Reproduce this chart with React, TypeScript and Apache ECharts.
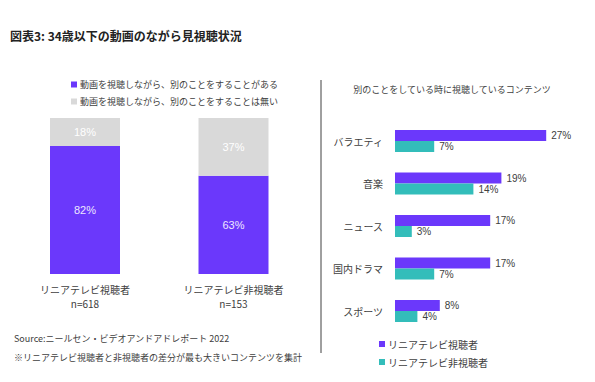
import React, { useEffect, useRef } from "react";
import * as echarts from "echarts";

const leftCategories = ["リニアテレビ視聴者\nn=618", "リニアテレビ非視聴者\nn=153"];
const doingOther = [82, 63];
const notDoingOther = [18, 37];
const leftLegend = ["動画を視聴しながら、別のことをすることがある", "動画を視聴しながら、別のことをすることは無い"];

const contentCategories = ["バラエティ", "音楽", "ニュース", "国内ドラマ", "スポーツ"];
const viewers = [27, 19, 17, 17, 8];
const nonViewers = [7, 14, 3, 7, 4];
const rightLegend = ["リニアテレビ視聴者", "リニアテレビ非視聴者"];

const PURPLE = "#6B38FB";
const TEAL = "#33BDBA";
const GRAY = "#D9D9D9";
const TEXT = "#404040";
const FONT = "'Noto Sans CJK JP', 'Noto Sans', sans-serif";
const NUMFONT = "'Liberation Sans', Arial, sans-serif";

export default function App() {
  const ref = useRef<HTMLDivElement>(null);
  useEffect(() => {
    document.body.style.margin = "0";
    const chart = echarts.init(ref.current!, null, { renderer: "svg" });
    chart.setOption({
      animation: false,
      textStyle: { fontFamily: FONT },
      grid: [
        { left: 10.75, width: 297, top: 118, height: 156 },
        { left: 395, width: 168, top: 119.75, height: 212.5 },
      ],
      xAxis: [
        {
          gridIndex: 0,
          type: "category",
          data: leftCategories,
          axisLine: { show: false },
          axisTick: { show: false },
          axisLabel: { color: TEXT, fontSize: 10, lineHeight: 14, margin: 8, fontFamily: FONT },
        },
        {
          gridIndex: 1,
          type: "value",
          min: 0,
          max: 30,
          show: false,
        },
      ],
      yAxis: [
        { gridIndex: 0, type: "value", min: 0, max: 100, show: false },
        {
          gridIndex: 1,
          type: "category",
          data: contentCategories,
          inverse: true,
          axisLine: { show: false },
          axisTick: { show: false },
          axisLabel: { color: TEXT, fontSize: 10, margin: 12, fontFamily: FONT },
        },
      ],
      legend: [
        {
          data: leftLegend,
          orient: "vertical",
          left: 66,
          top: 75,
          itemWidth: 6,
          itemHeight: 6,
          itemGap: 8,
          icon: "rect",
          textStyle: { color: TEXT, fontSize: 9, fontFamily: FONT, padding: [0, 0, 0, -2] },
        },
        {
          data: rightLegend,
          orient: "vertical",
          left: 374,
          top: 334,
          itemWidth: 6,
          itemHeight: 6,
          itemGap: 8,
          icon: "rect",
          textStyle: { color: TEXT, fontSize: 10, fontFamily: FONT, padding: [0, 0, 0, -2] },
        },
      ],
      series: [
        {
          name: leftLegend[0],
          type: "bar",
          xAxisIndex: 0,
          yAxisIndex: 0,
          stack: "a",
          data: doingOther,
          barWidth: 70,
          itemStyle: { color: PURPLE },
          label: { show: true, position: "inside", formatter: "{c}%", color: "#EDE6FF", fontSize: 11, fontFamily: NUMFONT },
        },
        {
          name: leftLegend[1],
          type: "bar",
          xAxisIndex: 0,
          yAxisIndex: 0,
          stack: "a",
          data: notDoingOther,
          barWidth: 70,
          itemStyle: { color: GRAY },
          label: { show: true, position: "inside", formatter: "{c}%", color: "#FFFFFF", fontSize: 11, fontFamily: NUMFONT },
        },
        {
          name: rightLegend[0],
          type: "bar",
          xAxisIndex: 1,
          yAxisIndex: 1,
          data: viewers,
          barWidth: 11,
          barGap: "0%",
          itemStyle: { color: PURPLE },
          label: { show: true, position: "right", distance: 5, formatter: "{c}%", color: TEXT, fontSize: 10, fontFamily: NUMFONT },
        },
        {
          name: rightLegend[1],
          type: "bar",
          xAxisIndex: 1,
          yAxisIndex: 1,
          data: nonViewers,
          barWidth: 11,
          barGap: "0%",
          itemStyle: { color: TEAL },
          label: { show: true, position: "right", distance: 5, formatter: "{c}%", color: TEXT, fontSize: 10, fontFamily: NUMFONT },
        },
      ],
      graphic: [
        {
          type: "text",
          left: 10,
          top: 29,
          style: { text: "図表3: 34歳以下の動画のながら見視聴状況", fontSize: 12, fontWeight: "bold", fill: "#222222", fontFamily: FONT },
        },
        {
          type: "text",
          x: 452,
          y: 89,
          style: { text: "別のことをしている時に視聴しているコンテンツ", fontSize: 9, fill: TEXT, fontFamily: FONT, align: "center", verticalAlign: "middle" },
        },
        {
          type: "text",
          x: 14,
          y: 338,
          style: { text: "Source:ニールセン・ビデオアンドアドレポート 2022", fontSize: 9, fill: TEXT, fontFamily: FONT, verticalAlign: "middle" },
        },
        {
          type: "text",
          x: 14,
          y: 357,
          style: { text: "※リニアテレビ視聴者と非視聴者の差分が最も大きいコンテンツを集計", fontSize: 9, fill: TEXT, fontFamily: FONT, verticalAlign: "middle" },
        },
        {
          type: "line",
          shape: { x1: 321, y1: 80, x2: 321, y2: 353 },
          style: { stroke: TEXT, lineWidth: 1 },
        },
      ],
    });
    return () => chart.dispose();
  }, []);
  return <div ref={ref} style={{ width: 595, height: 382 }} />;
}
